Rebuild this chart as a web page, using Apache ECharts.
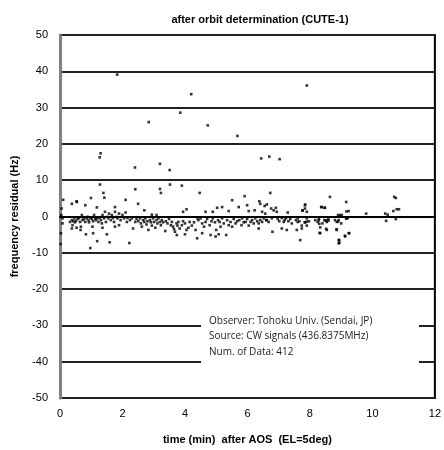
<!DOCTYPE html>
<html>
<head>
<meta charset="utf-8">
<script src="https://cdn.jsdelivr.net/npm/echarts@6/dist/echarts.min.js"></script>
<style>
body{margin:0;background:#fff;}
#chart{width:444px;height:450px;}
</style>
</head>
<body>
<div id="chart"></div>
<script>
// time (min) after AOS
var timeMin = [
 1.83,4.2,3.85,2.84,4.73,5.68,1.3,1.27,2.4,3.2,7.9,6.44,6.7,7.03,3.51,
 0.05,0.10,0.03,0.02,0.08,0.38,0.54,1.28,1.39,1.42,0.99,0.81,1.18,1.76,2.1,0.97,1.19,1.5,1.59,0.83,1.06,
 0.32,0.38,0.42,0.46,0.48,0.51,0.57,0.61,0.64,0.67,0.70,0.72,0.76,0.81,0.85,0.88,0.91,0.93,0.98,1.02,1.06,1.09,1.13,1.15,1.20,1.23,1.27,1.31,1.34,1.36,1.41,1.44,1.47,1.52,1.55,1.57,1.63,1.66,1.70,1.73,1.76,1.81,1.84,1.89,1.94,2.0,2.05,2.10,2.14,0.38,0.40,0.53,0.66,1.04,1.36,1.76,1.89,0.04,0.08,0.53,
 2.41,2.5,3.2,3.23,3.52,3.9,3.94,4.05,2.7,2.94,3.09,2.22,3.74,4.0,
 2.16,2.24,2.3,2.34,2.41,2.45,2.51,2.56,2.59,2.62,2.66,2.7,2.73,2.77,2.8,2.83,2.88,2.91,2.94,2.98,3.01,3.05,3.09,3.12,3.15,3.2,3.23,3.26,3.3,3.37,3.39,3.44,3.49,3.55,3.58,3.62,3.65,3.68,3.73,3.76,3.79,3.83,3.9,3.94,4.0,4.05,4.11,4.15,4.22,4.29,4.34,4.4,
 4.47,5.51,5.91,6.38,6.41,6.55,5.03,5.19,4.89,4.66,5.4,5.72,5.99,6.04,6.23,6.47,6.57,4.39,4.82,4.98,5.08,5.32,4.55,6.36,
 4.43,4.5,4.55,4.61,4.66,4.71,4.79,4.85,4.89,4.96,5.0,5.06,5.11,5.14,5.19,5.24,5.35,5.4,5.46,5.51,5.56,5.62,5.67,5.74,5.81,5.83,5.88,5.94,5.99,6.04,6.1,6.15,6.2,6.25,6.31,6.36,6.41,6.47,6.52,6.6,
 6.73,6.62,7.85,7.76,8.36,8.48,8.64,6.76,6.84,6.91,6.94,7.29,7.61,7.69,6.8,7.1,7.26,7.58,7.74,7.74,8.33,8.54,
 6.62,6.68,6.78,6.97,7.02,7.1,7.16,7.19,7.23,7.31,7.37,7.42,7.55,7.61,7.66,7.83,7.9,7.97,8.17,8.25,8.29,8.4,8.46,8.54,8.59,8.8,
 9.16,9.24,8.9,8.97,9.18,9.21,8.86,8.92,9.0,8.86,9.13,9.24,8.92,8.92,9.8,10.41,10.49,10.44,10.7,10.75,10.67,10.78,10.85,10.75,
 7.84,7.84,8.38,8.47,7.77,7.9,9.17,7.85,7.9,7.9,8.28,8.3,8.33,8.5,8.55,8.6,8.52,8.31,8.85,8.9,8.94,8.94,9.12,9.26,9.16,9.02
];
// frequency residual (Hz)
var residualHz = [
 39.1,33.7,28.6,26.0,25.1,22.2,17.4,16.3,13.5,14.5,36.1,16.0,16.5,15.8,12.8,
 2.2,4.6,-4.6,-7.6,-1.9,3.5,4.0,8.8,6.5,5.2,5.1,3.1,2.5,2.6,4.6,-8.7,-6.8,-4.9,-7.1,-4.9,-4.6,
 -1.5,-1.0,-1.3,-0.5,-1.6,-1.2,-0.7,-0.4,-1.5,-2.8,0.4,-1.0,-0.7,-1.5,-0.5,-0.1,-1.0,-1.6,-0.4,-0.7,-1.3,0.4,-0.5,-1.0,-0.5,-1.5,-0.3,-1.0,-1.9,0.4,-0.5,1.3,-1.5,-0.1,-0.5,0.8,-1.0,0.4,-0.4,-1.5,1.3,-0.1,-0.5,0.8,-1.0,0.4,-0.5,1.1,-1.5,-3.3,-2.4,-3.1,-3.7,-2.8,-3.1,-2.8,-2.4,0.4,-0.5,4.2,
 7.5,3.5,7.6,6.5,8.8,8.5,1.3,2.0,1.7,0.5,0.4,-7.3,-5.1,-4.9,
 -0.4,-1.0,-0.5,-3.3,-1.5,-0.7,-1.3,-0.5,-1.9,-2.8,-1.0,-1.5,-0.5,-2.2,-1.3,-3.7,-1.0,-1.6,-2.5,-0.5,-1.5,-3.1,-1.0,-1.9,-0.5,-1.5,-2.4,-1.0,-1.6,-4.0,-1.3,-1.9,-0.7,-2.4,-1.5,-2.8,-3.5,-4.2,-1.9,-2.5,-1.5,-3.3,-2.4,-1.3,-1.9,-3.7,-3.1,-1.5,-2.5,-1.6,-3.7,-0.5,
 6.5,4.5,5.6,4.2,3.5,2.9,2.4,2.6,1.3,1.3,1.5,2.6,3.1,1.5,1.7,1.3,0.8,-6.0,-5.1,-5.5,-4.9,-5.1,-4.6,-3.3,
 -1.0,-0.5,-1.9,-2.8,-1.5,-0.7,-2.4,-1.3,-0.5,-1.6,-3.7,-1.0,-1.5,-2.8,-0.5,-1.9,-1.0,-2.4,-1.5,-2.8,-0.7,-1.9,-1.3,-1.0,-2.4,-0.5,-1.6,-1.5,-0.7,-2.5,-1.5,-1.0,-1.9,-0.5,-1.3,-1.9,-1.0,-1.5,-0.5,-1.0,
 6.5,3.3,3.3,1.7,2.6,2.4,5.4,2.2,1.7,2.4,1.3,1.1,-0.5,-6.5,-4.2,-3.3,-3.7,-3.7,-2.5,-3.3,-4.6,-3.7,
 -1.0,-1.5,-0.5,-0.7,-1.3,-0.4,-1.5,-1.0,-0.5,-1.3,-0.7,-1.9,-1.0,-1.5,-1.3,-1.6,-0.5,-1.3,-1.0,-1.5,-0.7,-1.9,-1.0,-1.5,-0.5,-1.0,
 4.0,1.5,0.4,0.4,-0.5,-0.4,-1.5,-1.0,-1.9,-3.7,-5.5,-4.6,-6.5,-7.4,0.8,0.8,0.5,-1.2,5.4,5.1,1.5,2.0,2.0,-0.7,
 3.1,2.2,2.6,2.4,1.6,1.3,1.4,-1.6,-1.4,-2.5,-1.0,-2.0,-3.0,-1.1,-1.1,-1.1,-3.4,-4.5,-3.5,-1.4,-6.5,-7.2,-5.3,-4.6,-0.6,0.4
];
var xTicks = {min: 0, max: 12, step: 2};
var yTicks = {min: -50, max: 50, step: 10};
var noteLines = [
  'Observer: Tohoku Univ. (Sendai, JP)',
  'Source: CW signals (436.8375MHz)',
  'Num. of Data: 412'
];

var points = [];
for (var i = 0; i < timeMin.length; i++) {
  points.push([timeMin[i], residualHz[i]]);
}

var myChart = echarts.init(document.getElementById('chart'));
var option = {
  animation: false,
  backgroundColor: '#fff',
  title: {
    text: 'after orbit determination (CUTE-1)',
    left: 255, top: 9, textAlign: 'center',
    textStyle: {fontFamily: 'Liberation Sans', fontSize: 11, fontWeight: 'bold', color: '#000'}
  },
  grid: {
    left: 60, right: 8, top: 35, bottom: 49,
    show: true, borderColor: '#000', borderWidth: 2, backgroundColor: 'transparent'
  },
  xAxis: {
    type: 'value', min: xTicks.min, max: xTicks.max, interval: xTicks.step,
    name: 'time (min)  after AOS  (EL=5deg)',
    nameLocation: 'middle', nameGap: 36,
    nameTextStyle: {fontFamily: 'Liberation Sans', fontSize: 11, fontWeight: 'bold', color: '#000'},
    axisLine: {show: true, lineStyle: {color: '#000', width: 2}},
    axisTick: {show: false},
    splitLine: {show: false},
    axisLabel: {fontFamily: 'Liberation Sans', fontSize: 11, color: '#000', margin: 10}
  },
  yAxis: {
    type: 'value', min: yTicks.min, max: yTicks.max, interval: yTicks.step,
    name: 'frequency residual (Hz)',
    nameLocation: 'middle', nameGap: 40,
    nameTextStyle: {fontFamily: 'Liberation Sans', fontSize: 11, fontWeight: 'bold', color: '#000'},
    axisLine: {show: true, lineStyle: {color: '#808080', width: 3}},
    axisTick: {show: false},
    splitLine: {show: true, lineStyle: {color: '#222', width: 2}},
    axisLabel: {fontFamily: 'Liberation Sans', fontSize: 11, color: '#000', margin: 12}
  },
  graphic: [{
    type: 'rect', z: 100,
    shape: {x: 201, y: 305, width: 218, height: 80},
    style: {fill: '#fff'}
  }, {
    type: 'text', z: 101, left: 209, top: 313,
    style: {
      text: noteLines.join('\n'),
      font: '10px "Open Sans"', lineHeight: 15.5, fill: '#222'
    }
  }],
  series: [{
    type: 'scatter',
    data: points,
    symbol: 'rect',
    symbolSize: 2.6,
    itemStyle: {color: '#000'}
  }]
};
myChart.setOption(option);
</script>
</body>
</html>
